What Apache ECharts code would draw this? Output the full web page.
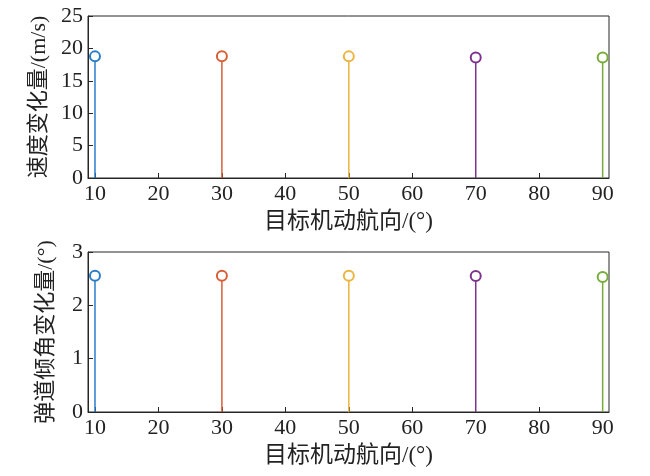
<!DOCTYPE html>
<html><head><meta charset="utf-8">
<script src="https://cdn.jsdelivr.net/npm/echarts@6/dist/echarts.min.js"></script>
<style>html,body{margin:0;padding:0;background:#fff}#c{width:650px;height:476px}</style>
</head><body><div id="c"></div>
<script>
const headings = [10, 30, 50, 70, 90];
const speedChange = [18.77, 18.8, 18.77, 18.6, 18.6];
const angleChange = [2.555, 2.555, 2.555, 2.55, 2.53];
const xTicks = [10, 20, 30, 40, 50, 60, 70, 80, 90];
const colors = ['#2A7DC9', '#D95F35', '#EDB440', '#7E338E', '#77AC3A'];
const xName = '目标机动航向/(°)';
const yName1 = '速度变化量/(m/s)';
const yName2 = '弹道倾角变化量/(°)';

const fontNum = '"Liberation Serif","Noto Sans CJK SC",serif';
const fontCJK = '"Liberation Serif","Noto Sans CJK SC",serif';

function xAxis(gi){
  return {
    type:'value', gridIndex:gi, min:8.9, max:91,
    name:xName, nameLocation:'middle', nameGap:32,
    nameTextStyle:{fontFamily:fontCJK, fontSize:23, color:'#222'},
    axisLine:{show:true, lineStyle:{color:'#262626', width:1}},
    axisTick:{show:true, inside:true, length:5, customValues:xTicks, lineStyle:{color:'#262626'}},
    axisLabel:{customValues:xTicks, fontFamily:fontNum, fontSize:22, color:'#222', margin:5},
    splitLine:{show:false}
  };
}
function yAxis(gi, max, interval, name){
  return {
    type:'value', gridIndex:gi, min:0, max:max, interval:interval,
    name:name, nameLocation:'middle', nameGap:31,
    nameTextStyle:{fontFamily:fontCJK, fontSize:22, color:'#222'},
    axisLine:{show:true, lineStyle:{color:'#262626', width:1}},
    axisTick:{show:true, inside:true, length:5, lineStyle:{color:'#262626'}},
    axisLabel:{fontFamily:fontNum, fontSize:22, color:'#222', margin:5},
    splitLine:{show:false}
  };
}
const series = [];
function addStems(gi, vals){
  headings.forEach((h,i)=>{
    series.push({
      type:'line', xAxisIndex:gi, yAxisIndex:gi,
      data:[{value:[h,0], symbol:'none'}, {value:[h,vals[i]]}],
      symbol:'emptyCircle', symbolSize:10, showAllSymbol:true,
      lineStyle:{color:colors[i], width:1.5},
      itemStyle:{color:colors[i], borderWidth:1.5},
      animation:false, silent:true
    });
  });
}
addStems(0, speedChange);
addStems(1, angleChange);

const chart = echarts.init(document.getElementById('c'));
chart.setOption({
  animation:false,
  grid:[
    {left:88, right:41, top:16, height:162, show:true, borderColor:'#262626', borderWidth:1},
    {left:88, right:41, top:252, height:160, show:true, borderColor:'#262626', borderWidth:1}
  ],
  xAxis:[xAxis(0), xAxis(1)],
  yAxis:[yAxis(0,25,5,yName1), yAxis(1,3,1,yName2)],
  series:series
});
</script></body></html>
